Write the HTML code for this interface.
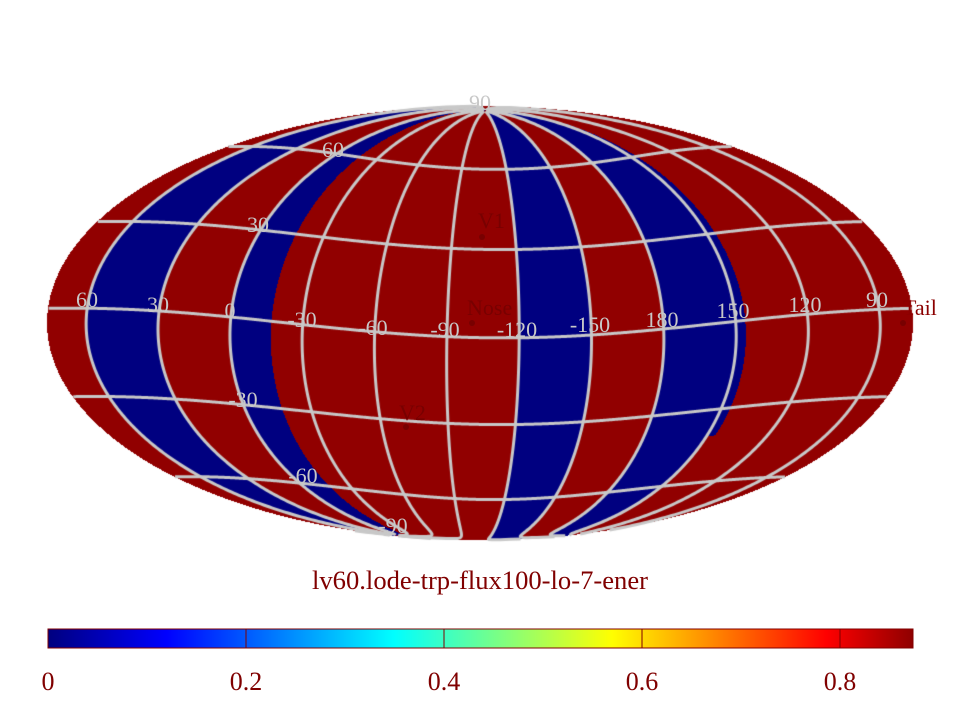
<!DOCTYPE html>
<html><head><meta charset="utf-8"><style>
html,body{margin:0;padding:0;background:#fff;}
#w{position:relative;width:960px;height:720px;overflow:hidden;}
canvas,svg{position:absolute;left:0;top:0;}
</style></head><body><div id="w">
<canvas id="c" width="960" height="720"></canvas>
<svg width="960" height="720" xmlns="http://www.w3.org/2000/svg" font-family="Liberation Serif, serif">
<defs><linearGradient id="g" x1="0" x2="1" y1="0" y2="0">
<stop offset="0" stop-color="#00007f"/><stop offset="0.137" stop-color="#0000ff"/>
<stop offset="0.40" stop-color="#00ffff"/><stop offset="0.652" stop-color="#ffff00"/>
<stop offset="0.90" stop-color="#ff0000"/><stop offset="1" stop-color="#8f0000"/></linearGradient></defs>
<g fill="#c8c8c8" font-size="22" text-anchor="middle">
<text x="87" y="307">60</text><text x="158" y="312">30</text><text x="230" y="318">0</text>
<text x="302" y="327">-30</text><text x="373" y="335">-60</text><text x="445" y="337">-90</text>
<text x="517" y="337">-120</text><text x="590" y="332">-150</text><text x="662" y="327">180</text>
<text x="733" y="318">150</text><text x="805" y="312">120</text><text x="877" y="307">90</text>
<text x="480" y="110">90</text><text x="333" y="157">60</text><text x="258" y="232">30</text>
<text x="243" y="407">-30</text><text x="303" y="483">-60</text><text x="393" y="533">-90</text>
</g>
<g fill="#780000" font-size="22">
<text x="478" y="228">V1</text><circle cx="482" cy="237" r="3"/>
<text x="467" y="315">Nose</text><circle cx="472" cy="323" r="3"/>
<text x="399" y="420">V2</text><circle cx="406" cy="427" r="3"/>
<text x="903" y="315" fill="#8b0000">Tail</text><circle cx="903" cy="323" r="3"/>
</g>
<text x="312" y="589" fill="#800000" font-size="26" textLength="336" lengthAdjust="spacingAndGlyphs">lv60.lode-trp-flux100-lo-7-ener</text>
<rect x="48" y="629" width="865" height="19" fill="url(#g)" stroke="#800000" stroke-width="1"/>
<g stroke="#800000" stroke-width="1"><line x1="246" y1="629" x2="246" y2="648"/><line x1="444" y1="629" x2="444" y2="648"/><line x1="642" y1="629" x2="642" y2="648"/><line x1="840" y1="629" x2="840" y2="648"/></g>
<g fill="#800000" font-size="26" text-anchor="middle">
<text x="48" y="690">0</text><text x="246" y="690">0.2</text><text x="444" y="690">0.4</text><text x="642" y="690">0.6</text><text x="840" y="690">0.8</text>
</g>
</svg></div>
<script>
(function(){
var cv=document.getElementById('c'),ctx=cv.getContext('2d');
var CX=480,CY=323,A=433,B=217,D=Math.PI/180,C0=-113.7,T=5*D,R=10*D;
var img=ctx.createImageData(960,720),d=img.data;
function toGrid(lam,phi){
 var x=Math.cos(phi)*Math.cos(lam),y=Math.cos(phi)*Math.sin(lam),z=Math.sin(phi);
 var x1=x*Math.cos(R)+y*Math.sin(R),y1=-x*Math.sin(R)+y*Math.cos(R);
 var x2=x1*Math.cos(T)-z*Math.sin(T),z2=x1*Math.sin(T)+z*Math.cos(T);
 var h=Math.atan2(y1,x2)/D,G=C0-h;
 while(G>180)G-=360;while(G<=-180)G+=360;
 return [G,Math.asin(Math.max(-1,Math.min(1,z2)))/D];
}
function blue(G,b){
 if(G>=30&&G<=60)return true;
 if(G>=-17&&G<=0)return true;
 if(G>=-150&&G<=-120)return true;
 if(G>=150||G<=-179.99)return true;
 if(G>=146&&G<150&&b>-40)return true;
 return false;
}
for(var py=0;py<720;py++){
 var s=(CY-(py+0.5))/B; if(Math.abs(s)>=1)continue;
 var th=Math.asin(s),ct=Math.cos(th);
 var phi=Math.asin((2*th+Math.sin(2*th))/Math.PI);
 for(var px=0;px<960;px++){
  var lam=180*((px+0.5)-CX)/(A*ct); if(Math.abs(lam)>180)continue;
  var g=toGrid(lam*D,phi),i=(py*960+px)*4;
  if(blue(g[0],g[1])){d[i]=0;d[i+1]=0;d[i+2]=128;}else{d[i]=145;d[i+1]=0;d[i+2]=0;}
  d[i+3]=255;
 }
}
ctx.putImageData(img,0,0);
function proj(G,b){
 var h=(C0-G)*D,bb=b*D;
 var x=Math.cos(bb)*Math.cos(h),y=Math.sin(h)*Math.cos(bb),z=Math.sin(bb);
 var x1=x*Math.cos(T)+z*Math.sin(T),z1=-x*Math.sin(T)+z*Math.cos(T);
 var x2=x1*Math.cos(R)-y*Math.sin(R),y2=x1*Math.sin(R)+y*Math.cos(R);
 var lam=Math.atan2(y2,x2),phi=Math.asin(Math.max(-1,Math.min(1,z1)));
 var t=phi;
 for(var k=0;k<50;k++){var f=2*t+Math.sin(2*t)-Math.PI*Math.sin(phi);var df=2+2*Math.cos(2*t);if(Math.abs(df)<1e-9)break;t-=f/df;}
 return [CX+A*(lam/Math.PI)*Math.cos(t),CY-B*Math.sin(t)];
}
ctx.strokeStyle='#c8c8c8';ctx.lineWidth=3;ctx.lineJoin='round';
function line(pts){
 ctx.beginPath();var prev=null;
 for(var i=0;i<pts.length;i++){var p=pts[i];
  if(!prev||Math.abs(p[0]-prev[0])>60)ctx.moveTo(p[0],p[1]);else ctx.lineTo(p[0],p[1]);prev=p;}
 ctx.stroke();
}
for(var G=-180;G<180;G+=30){var pts=[];for(var b=-89.5;b<=89.5;b+=0.5)pts.push(proj(G,b));line(pts);}
[-60,-30,0,30,60].forEach(function(b){var pts=[];for(var G=-180;G<=180;G+=0.5)pts.push(proj(G,b));line(pts);});
})();
</script>
</body></html>
